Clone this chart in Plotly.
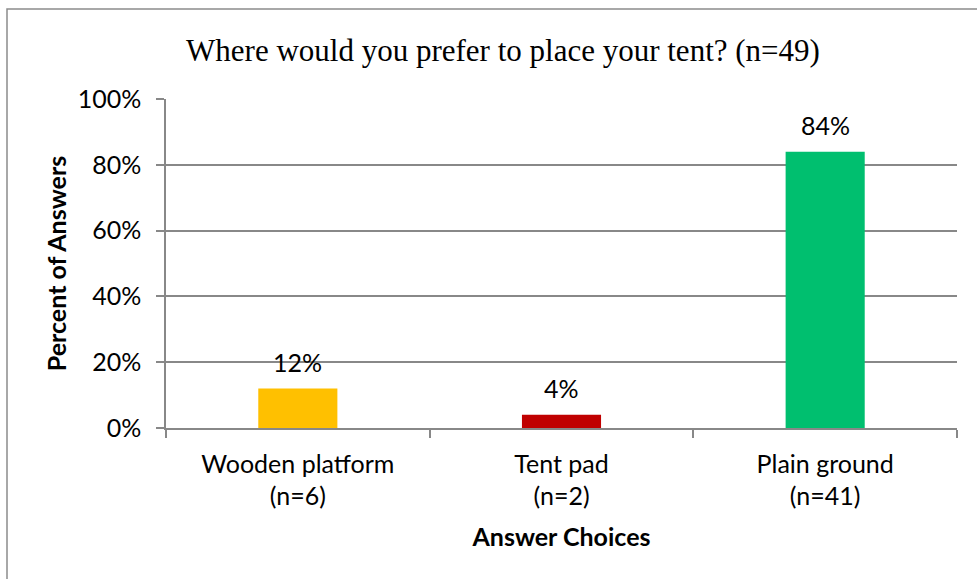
import plotly.graph_objects as go

categories = ["Wooden platform", "Tent pad", "Plain ground"]
counts = [6, 2, 41]
percents = [0.12, 0.04, 0.84]
bar_colors = ["#FFC000", "#C00000", "#00BF6F"]
title_text = "Where would you prefer to place your tent? (n=49)"
x_title = "Answer Choices"
y_title = "Percent of Answers"

tick_labels = [f"{c}<br>(n={n})" for c, n in zip(categories, counts)]

W, H = 977, 579
L, R, T, B = 166, 20, 99, 151
pw, ph = W - L - R, H - T - B

font_main = "Lato, Carlito, Calibri, 'Liberation Sans', sans-serif"
grid = "#888888"

fig = go.Figure()
fig.add_trace(go.Bar(
    x=tick_labels, y=percents,
    marker=dict(color=bar_colors, line=dict(width=0)),
    hoverinfo="skip",
))

for lab, p in zip(tick_labels, percents):
    fig.add_annotation(x=lab, y=p, xref="x", yref="y", text=f"{round(p*100)}%",
                       showarrow=False, yanchor="middle", yshift=27,
                       font=dict(family=font_main, size=25, color="#000000"))

# outer chart border
def px_x(v):
    return (v - L) / pw
def px_y(v):
    return (H - B - v) / ph

fig.add_shape(type="rect", xref="paper", yref="paper",
              x0=px_x(7), x1=px_x(990), y0=px_y(595), y1=px_y(9),
              line=dict(color="#8C8C8C", width=1.5), fillcolor="rgba(0,0,0,0)", layer="below")

fig.update_layout(
    width=W, height=H,
    margin=dict(l=L, r=R, t=T, b=B, autoexpand=False),
    paper_bgcolor="white", plot_bgcolor="white",
    bargap=0.7,
    showlegend=False,
    title=dict(text=title_text, x=(503) / W, xanchor="center", y=1 - 50 / H, yanchor="middle",
               font=dict(family="'Liberation Serif', 'Times New Roman', serif", size=31, color="#000000")),
    xaxis=dict(
        type="category",
        tickson="boundaries", ticks="outside", ticklen=8, tickcolor=grid, tickwidth=1.5,
        showline=True, linecolor=grid, linewidth=1.5,
        showgrid=False,
        tickfont=dict(family=font_main, size=25, color="#000000"),
        ticklabelstandoff=13,
        title=dict(text=f"<b>{x_title}</b>", standoff=19,
                   font=dict(family=font_main, size=25, color="#000000")),
    ),
    yaxis=dict(
        range=[0, 1], dtick=0.2, tickformat=".0%",
        ticks="outside", ticklen=8, tickcolor=grid, tickwidth=1.5,
        showline=True, linecolor=grid, linewidth=1.5,
        showgrid=True, gridcolor=grid, gridwidth=1.5,
        zeroline=False,
        tickfont=dict(family=font_main, size=25, color="#000000"),
        ticklabelstandoff=10,
        title=dict(text=f"<b>{y_title}</b>", standoff=4,
                   font=dict(family=font_main, size=25, color="#000000")),
    ),
)

fig.write_html("out.html", config={"displayModeBar": False},
               post_script="document.body.style.margin='0px';")
